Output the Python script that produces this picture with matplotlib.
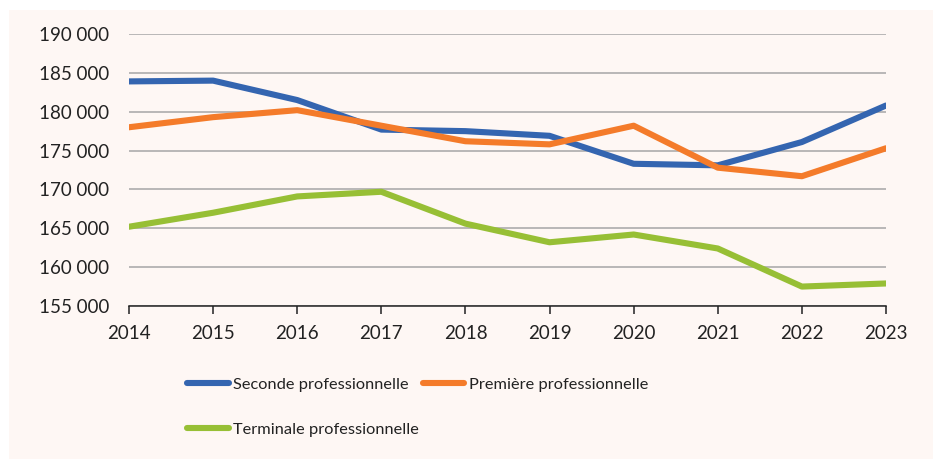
import matplotlib
matplotlib.use("Agg")
import matplotlib.pyplot as plt
from matplotlib.patches import Rectangle
from matplotlib.ticker import FuncFormatter

years = [2014, 2015, 2016, 2017, 2018, 2019, 2020, 2021, 2022, 2023]
seconde = [183900, 184000, 181500, 177700, 177500, 176900, 173300, 173100, 176100, 180800]
premiere = [178000, 179300, 180200, 178200, 176200, 175800, 178200, 172800, 171700, 175300]
terminale = [165200, 167000, 169100, 169700, 165600, 163200, 164200, 162400, 157500, 157900]
labels = ["Seconde professionnelle", "Première professionnelle", "Terminale professionnelle"]
colors = ["#3465b0", "#f47b2a", "#97bf35"]
y_ticks = [155000, 160000, 165000, 170000, 175000, 180000, 185000, 190000]

bg = "#fef7f4"

fig = plt.figure(figsize=(9.33, 4.59), dpi=100)
fig.patch.set_facecolor("white")
fig.patches.append(Rectangle((9 / 933, 0), 1, 1 - 10 / 459, transform=fig.transFigure,
                             facecolor=bg, edgecolor="none", zorder=-5))

ax = fig.add_axes([129 / 933, 1 - 306 / 459, 757 / 933, 272 / 459])
ax.set_facecolor("none")

x = list(range(len(years)))
lines = []
for vals, lab, c in zip([seconde, premiere, terminale], labels, colors):
    l, = ax.plot(x, vals, color=c, lw=4.4, solid_capstyle="round",
                 solid_joinstyle="round", label=lab, zorder=3)
    lines.append(l)

ax.set_xlim(0, len(years) - 1)
ax.set_ylim(155000, 190000)
ax.set_yticks(y_ticks)
ax.yaxis.set_major_formatter(FuncFormatter(lambda v, p: f"{int(v):,}".replace(",", " ")))
ax.set_xticks(x)
ax.set_xticklabels([str(y) for y in years])

ax.grid(axis="y", color="#a6a6a6", lw=1.1, zorder=1)
for s in ["top", "right", "left"]:
    ax.spines[s].set_visible(False)
ax.spines["bottom"].set_color("#222222")
ax.spines["bottom"].set_linewidth(1.1)
ax.spines["bottom"].set_zorder(2)
ax.tick_params(axis="y", length=0, pad=14, labelsize=13.5, labelcolor="#222222")
ax.tick_params(axis="x", length=6, width=1.1, color="#222222", pad=8,
               labelsize=13.5, labelcolor="#222222")
for t in ax.get_xticklabels() + ax.get_yticklabels():
    t.set_fontfamily(["Lato", "DejaVu Sans"])

leg = fig.legend([lines[0], lines[2], lines[1]], [labels[0], labels[2], labels[1]],
                 ncol=2, loc="upper left", bbox_to_anchor=(172 / 933, 1 - 363 / 459),
                 frameon=False, handlelength=2.55, handletextpad=0.3,
                 columnspacing=0.2, labelspacing=1.85,
                 prop={"family": ["Lato", "DejaVu Sans"], "size": 11.8})
for t in leg.get_texts():
    t.set_color("#222222")

fig.savefig("out.png", dpi=100, facecolor=fig.get_facecolor())
